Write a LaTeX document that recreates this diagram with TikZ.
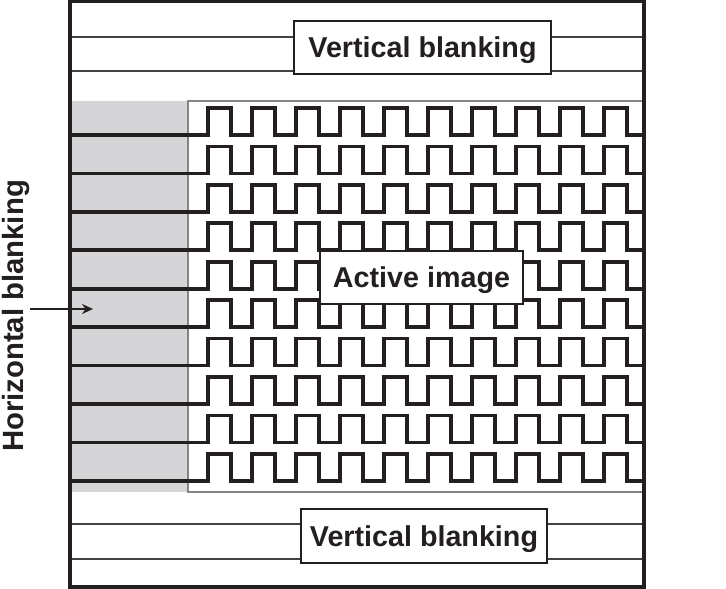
\documentclass[tikz,border=0pt]{standalone}
\usepackage{fontspec}
\setmainfont{Liberation Sans}
\usetikzlibrary{arrows.meta}
\definecolor{ink}{HTML}{231F20}
\definecolor{blankgray}{HTML}{D5D5D7}
\begin{document}
\begin{tikzpicture}[x=1pt,y=-1pt,
  frame/.style={draw=ink,line width=3.2pt},
  thin/.style={draw=ink!85,line width=1.8pt},
  wave/.style={draw=ink,line width=3.7pt,line join=miter},
  label/.style={draw=ink,line width=1.5pt,fill=white,inner sep=0pt,text depth=0pt,
    font=\fontsize{28.7}{34}\selectfont\bfseries,text=ink},
  arr/.style={draw=ink,line width=2.4pt,-{Stealth[length=11pt,width=10pt]}}]
\useasboundingbox (0,0) rectangle (726,589);
% gray horizontal blanking area
\fill[blankgray] (70,101) rectangle (188,492);
% active image outline
\draw[draw=ink!55,line width=1.4pt] (188,101) rectangle (644,492);
% square waves
\foreach \i in {0,...,9}{
  \pgfmathsetmacro\b{135+38.44*\i}
  \draw[wave] (70,\b) -- (208,\b)
    foreach \k in {0,...,9}{
      -- ({208+44*\k},\b) -- ({208+44*\k},{\b-27})
      -- ({231+44*\k},{\b-27}) -- ({231+44*\k},\b)}
    -- (644,\b);
}
% labels
\node[label,minimum width=257pt,minimum height=53pt] (vtop) at (422.5,47.5) {Vertical blanking};
\node[label,minimum width=246pt,minimum height=54pt] (vbot) at (424,536) {Vertical blanking};
\node[label,minimum width=203pt,minimum height=53pt] (act) at (421.5,277.5) {Active image};
\node[rotate=90,anchor=north,inner sep=0pt,font=\fontsize{29.3}{34}\selectfont\bfseries,text=ink] (hb) at (2.5,316) {Horizontal blanking};
% blanking lines
\coordinate (t1) at (70,37);
\coordinate (t2) at (70,71);
\coordinate (t1r) at (644,37);
\coordinate (t2r) at (644,71);
\coordinate (b1) at (70,524);
\coordinate (b2) at (70,559);
\coordinate (b1r) at (644,524);
\coordinate (b2r) at (644,559);
\draw[thin] (t1) -- (t1 -| vtop.west) (t1r) -- (t1r -| vtop.east);
\draw[thin] (t2) -- (t2 -| vtop.west) (t2r) -- (t2r -| vtop.east);
\draw[thin] (b1) -- (b1 -| vbot.west) (b1r) -- (b1r -| vbot.east);
\draw[thin] (b2) -- (b2 -| vbot.west) (b2r) -- (b2r -| vbot.east);
% outer frame
\draw[frame] (70,1.6) rectangle (644,587);
% arrow
\coordinate (as) at (30,309);
\coordinate (ae) at (93,309);
\draw[arr] (as) -- (ae);
\end{tikzpicture}
\end{document}
